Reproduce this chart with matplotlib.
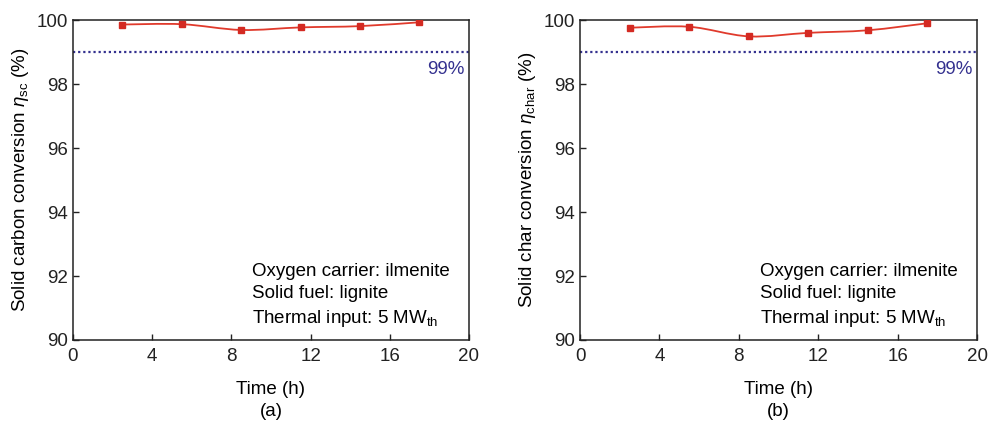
import numpy as np
import matplotlib
matplotlib.use("Agg")
import matplotlib.pyplot as plt
from matplotlib.path import Path
from matplotlib.patches import PathPatch

plt.rcParams['font.family'] = ['Liberation Sans', 'DejaVu Sans']
plt.rcParams['mathtext.fontset'] = 'custom'
plt.rcParams['mathtext.rm'] = 'Liberation Sans'
plt.rcParams['mathtext.it'] = 'Liberation Sans:italic'

time_h = [2.5, 5.5, 8.5, 11.5, 14.5, 17.5]
eta_sc = [99.86, 99.87, 99.69, 99.77, 99.81, 99.93]
eta_char = [99.76, 99.79, 99.49, 99.60, 99.68, 99.90]
ylabels = [r"Solid carbon conversion $\eta_{\rm sc}$ (%)",
           r"Solid char conversion $\eta_{\rm char}$ (%)"]
panel_tags = ["(a)", "(b)"]
note = "Oxygen carrier: ilmenite\nSolid fuel: lignite\nThermal input: 5 MW$_{\\rm th}$"

red = "#e03a2c"
navy = "#34318f"
fs = 13.5


def smooth_path(xs, ys):
    # Catmull-Rom -> cubic Bezier, drawn as a Path in data coords
    pts = list(zip(xs, ys))
    verts = [pts[0]]
    codes = [Path.MOVETO]
    n = len(pts)
    for i in range(n - 1):
        p0 = pts[i - 1] if i > 0 else pts[i]
        p1 = pts[i]
        p2 = pts[i + 1]
        p3 = pts[i + 2] if i + 2 < n else pts[i + 1]
        c1 = (p1[0] + (p2[0] - p0[0]) / 6, p1[1] + (p2[1] - p0[1]) / 6)
        c2 = (p2[0] - (p3[0] - p1[0]) / 6, p2[1] - (p3[1] - p1[1]) / 6)
        verts += [c1, c2, p2]
        codes += [Path.CURVE4] * 3
    return Path(verts, codes)


fig = plt.figure(figsize=(9.89, 4.21), dpi=100)
axes = [fig.add_axes([0.0738, 0.1924, 0.4004, 0.760]),
        fig.add_axes([0.5865, 0.1924, 0.4014, 0.760])]

for ax, ys, ylab, tag in zip(axes, [eta_sc, eta_char], ylabels, panel_tags):
    ax.add_patch(PathPatch(smooth_path(time_h, ys), facecolor='none',
                           edgecolor=red, lw=1.3, zorder=3))
    ax.plot(time_h, ys, ls='none', marker='s', ms=5, color="#d42a22", zorder=4)
    ax.axhline(99, color=navy, ls=(0, (1.0, 1.3)), lw=1.6, zorder=2)
    ax.text(19.75, 98.72, "99%", color=navy, fontsize=fs, ha='right', va='top')
    ax.text(9.05, 92.42, note, fontsize=fs, ha='left', va='top', linespacing=1.42)
    ax.set_xlim(0, 20)
    ax.set_ylim(90, 100)
    ax.set_xticks(range(0, 21, 4))
    ax.set_yticks(range(90, 101, 2))
    ax.tick_params(direction='in', labelsize=fs, length=4, width=1, colors='#222222')
    ax.tick_params(axis='x', pad=6)
    for s in ax.spines.values():
        s.set_linewidth(1.1)
        s.set_color('#222222')
    ax.set_xlabel("Time (h)", fontsize=fs, labelpad=11)
    ax.set_ylabel(ylab, fontsize=fs, labelpad=4)
    ax.text(0.5, -0.222, tag, transform=ax.transAxes, fontsize=fs, ha='center', va='center')

fig.savefig("out.png", dpi=100)
